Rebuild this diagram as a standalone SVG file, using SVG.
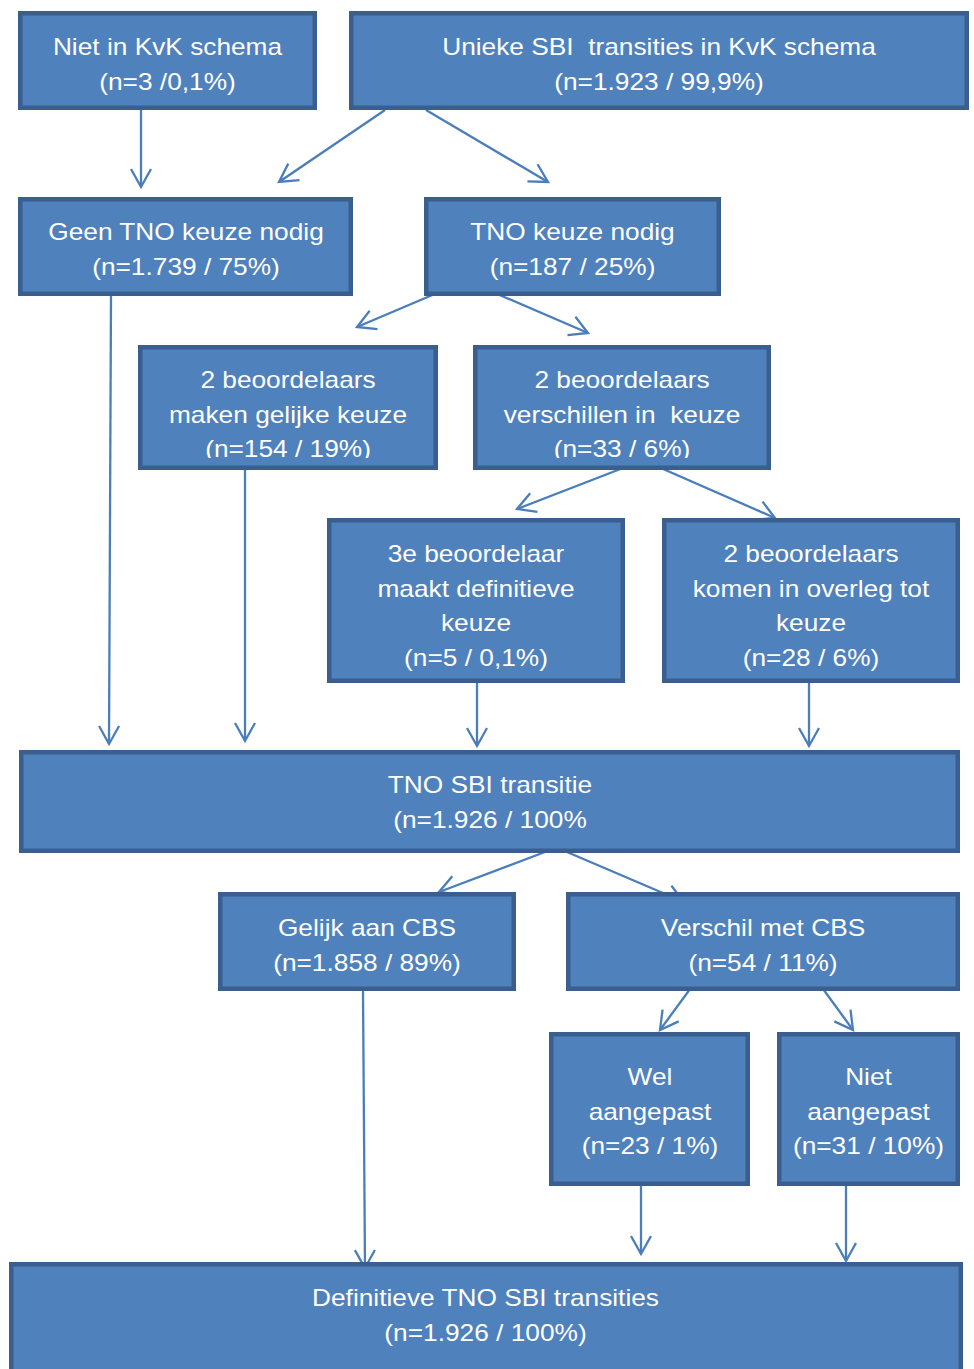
<svg xmlns="http://www.w3.org/2000/svg" width="974" height="1369" viewBox="0 0 974 1369">
<style>
.b{fill:#4f81bd;stroke:#3a5f8e;stroke-width:4.5}
.t{font-family:"Liberation Sans",Arial,sans-serif;font-size:24px;fill:#ffffff;text-anchor:middle}
.c{fill:none;stroke:#4a7ebb;stroke-width:2.3;marker-end:url(#a)}
</style>
<defs>
<marker id="a" markerUnits="userSpaceOnUse" markerWidth="24" markerHeight="24" viewBox="-20 -12 24 24" refX="0" refY="0" orient="auto" overflow="visible">
<path d="M-18,-10 L0,0 L-18,10" fill="none" stroke="#4a7ebb" stroke-width="2.3"/>
</marker>
<clipPath id="clip5"><rect x="130" y="340" width="700" height="118"/></clipPath>
</defs>
<rect width="974" height="1369" fill="#ffffff"/>
<g id="connectors">
<path class="c" d="M141,110 L141,187"/>
<path class="c" d="M385,110 L279,182"/>
<path class="c" d="M426,110 L548,182"/>
<path class="c" d="M111,296 L109,744"/>
<path class="c" d="M463,282 L357,327"/>
<path class="c" d="M467,281 L588,333"/>
<path class="c" d="M245,470 L245,741"/>
<path class="c" d="M623,468 L517,509"/>
<path class="c" d="M654,465 L775,518"/>
<path class="c" d="M477,683 L477,746"/>
<path class="c" d="M809,683 L809,746"/>
<path class="c" d="M545,852 L439,892"/>
<path class="c" d="M567,852 L684,902"/>
<path class="c" d="M363,991 L365,1268"/>
<path class="c" d="M693,985 L660,1030"/>
<path class="c" d="M818,982 L853,1030"/>
<path class="c" d="M641,1186 L641,1254"/>
<path class="c" d="M846,1186 L846,1261"/>
</g>
<g id="n1">
<rect class="b" x="20.25" y="13.25" width="294.5" height="94.5"/>
<text class="t" transform="translate(167.5,0) scale(1.095,1)"><tspan x="0" y="55.5">Niet in KvK schema</tspan><tspan x="0" y="90">(n=3 /0,1%)</tspan></text>
</g>
<g id="n2">
<rect class="b" x="351.25" y="13.25" width="615.5" height="94.5"/>
<text class="t" transform="translate(659,0) scale(1.095,1)"><tspan x="0" y="55.5">Unieke SBI&#160; transities in KvK schema</tspan><tspan x="0" y="90">(n=1.923 / 99,9%)</tspan></text>
</g>
<g id="n3">
<rect class="b" x="20.25" y="199.25" width="330.5" height="94.5"/>
<text class="t" transform="translate(186,0) scale(1.095,1)"><tspan x="0" y="240.5">Geen TNO keuze nodig</tspan><tspan x="0" y="275">(n=1.739 / 75%)</tspan></text>
</g>
<g id="n4">
<rect class="b" x="426.25" y="199.25" width="292.5" height="94.5"/>
<text class="t" transform="translate(572.5,0) scale(1.095,1)"><tspan x="0" y="240.5">TNO keuze nodig</tspan><tspan x="0" y="275">(n=187 / 25%)</tspan></text>
</g>
<g id="n5">
<rect class="b" x="140.25" y="347.25" width="295.5" height="120.5"/>
<g clip-path="url(#clip5)">
<text class="t" transform="translate(288,0) scale(1.095,1)"><tspan x="0" y="388.5">2 beoordelaars</tspan><tspan x="0" y="423">maken gelijke keuze</tspan><tspan x="0" y="457.5">(n=154 / 19%)</tspan></text>
</g>
</g>
<g id="n6">
<rect class="b" x="475.25" y="347.25" width="293.5" height="120.5"/>
<g clip-path="url(#clip5)">
<text class="t" transform="translate(622,0) scale(1.095,1)"><tspan x="0" y="388.5">2 beoordelaars</tspan><tspan x="0" y="423">verschillen in&#160; keuze</tspan><tspan x="0" y="457.5">(n=33 / 6%)</tspan></text>
</g>
</g>
<g id="n7">
<rect class="b" x="329.25" y="520.25" width="293.5" height="160.5"/>
<text class="t" transform="translate(476,0) scale(1.095,1)"><tspan x="0" y="562.5">3e beoordelaar</tspan><tspan x="0" y="597">maakt definitieve</tspan><tspan x="0" y="631.5">keuze</tspan><tspan x="0" y="666">(n=5 / 0,1%)</tspan></text>
</g>
<g id="n8">
<rect class="b" x="664.25" y="520.25" width="293.5" height="160.5"/>
<text class="t" transform="translate(811,0) scale(1.095,1)"><tspan x="0" y="562.5">2 beoordelaars</tspan><tspan x="0" y="597">komen in overleg tot</tspan><tspan x="0" y="631.5">keuze</tspan><tspan x="0" y="666">(n=28 / 6%)</tspan></text>
</g>
<g id="n9">
<rect class="b" x="21.25" y="752.25" width="936.5" height="98.5"/>
<text class="t" transform="translate(490,0) scale(1.095,1)"><tspan x="0" y="793.5">TNO SBI transitie</tspan><tspan x="0" y="828">(n=1.926 / 100%</tspan></text>
</g>
<g id="n10">
<rect class="b" x="220.25" y="894.25" width="293.5" height="94.5"/>
<text class="t" transform="translate(367,0) scale(1.095,1)"><tspan x="0" y="936.5">Gelijk aan CBS</tspan><tspan x="0" y="971">(n=1.858 / 89%)</tspan></text>
</g>
<g id="n11">
<rect class="b" x="568.25" y="894.25" width="389.5" height="94.5"/>
<text class="t" transform="translate(763,0) scale(1.095,1)"><tspan x="0" y="936.5">Verschil met CBS</tspan><tspan x="0" y="971">(n=54 / 11%)</tspan></text>
</g>
<g id="n12">
<rect class="b" x="551.25" y="1034.25" width="196.5" height="149.5"/>
<text class="t" transform="translate(650,0) scale(1.095,1)"><tspan x="0" y="1085.5">Wel</tspan><tspan x="0" y="1120">aangepast</tspan><tspan x="0" y="1154.5">(n=23 / 1%)</tspan></text>
</g>
<g id="n13">
<rect class="b" x="779.25" y="1034.25" width="178.5" height="149.5"/>
<text class="t" transform="translate(868.5,0) scale(1.095,1)"><tspan x="0" y="1085.5">Niet</tspan><tspan x="0" y="1120">aangepast</tspan><tspan x="0" y="1154.5">(n=31 / 10%)</tspan></text>
</g>
<g id="n14">
<rect class="b" x="11.25" y="1264.25" width="949.5" height="130"/>
<text class="t" transform="translate(485.5,0) scale(1.095,1)"><tspan x="0" y="1306.5">Definitieve TNO SBI transities</tspan><tspan x="0" y="1341">(n=1.926 / 100%)</tspan></text>
</g>
</svg>
